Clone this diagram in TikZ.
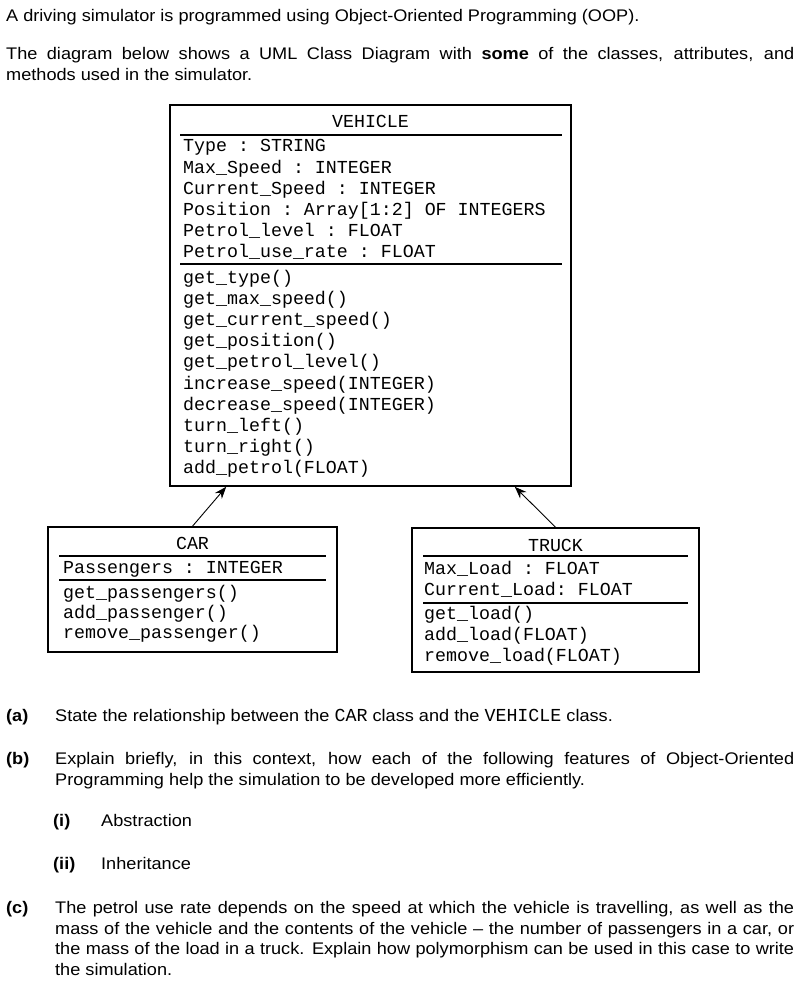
\documentclass[tikz,border=0pt]{standalone}
\usepackage{fontspec}
\setmainfont{Liberation Sans}[FakeStretch=1.08]
\setmonofont{Liberation Mono}
\usetikzlibrary{positioning, arrows.meta}
\newcommand{\umlfont}{\fontsize{18.3}{21.2}\selectfont\ttfamily}
\newcommand{\bodyfont}{\fontsize{16.8}{21}\selectfont}

\begin{document}
\begin{tikzpicture}[
        x=1pt, y=-1pt,
        every node/.style={inner sep=0pt, font=\bodyfont},
        classbox/.style={rectangle, draw=black, line width=1.6pt},
        member/.style={anchor=base west, align=left, font=\umlfont},
        classname/.style={anchor=base, font=\umlfont},
        sep/.style={line width=1.3pt},
        inherit/.style={line width=0.9pt, -{Stealth[length=12pt, width=9pt]}},
        para/.style={anchor=base west, align=left}
    ]
    \useasboundingbox (0,0) rectangle (803,1000);

    % Question text (multi-line nodes sit on their last baseline)
    \node (intro1) [para] at (6,22) {A driving simulator is programmed using Object-Oriented Programming (OOP).};
    \node (intro2) [para] at (6,81) {\makebox[788pt][s]{The diagram below shows a UML Class Diagram with \textbf{some} of the classes, attributes, and}\\methods used in the simulator.};

    % Classes
    \node (vehicle) [classbox, minimum width=401pt, minimum height=381pt] at (370.5,295.5) {};
    \node (car) [classbox, minimum width=289pt, minimum height=125pt] at (192.5,589.5) {};
    \node (truck) [classbox, minimum width=287pt, minimum height=144pt] at (555.5,600) {};

    % VEHICLE
    \node (vname) [classname] at (370.5,128) {VEHICLE};
    \draw [sep] (180,135) -- (562,135);
    \node (vattr) [member] at (183,258) {Type : STRING\\Max\_Speed : INTEGER\\Current\_Speed : INTEGER\\Position : Array[1:2] OF INTEGERS\\Petrol\_level : FLOAT\\Petrol\_use\_rate : FLOAT};
    \draw [sep] (180,264) -- (562,264);
    \node (vmeth) [member] at (183,473.8) {get\_type()\\get\_max\_speed()\\get\_current\_speed()\\get\_position()\\get\_petrol\_level()\\increase\_speed(INTEGER)\\decrease\_speed(INTEGER)\\turn\_left()\\turn\_right()\\add\_petrol(FLOAT)};

    % CAR
    \node (cname) [classname] at (192.5,549) {CAR};
    \draw [sep] (59,556) -- (326,556);
    \node (cattr) [member] at (63,573) {Passengers : INTEGER};
    \draw [sep] (59,580) -- (326,580);
    \node (cmeth) [member, font=\fontsize{18.3}{20}\selectfont\ttfamily] at (63,638) {get\_passengers()\\add\_passenger()\\remove\_passenger()};

    % TRUCK
    \node (tname) [classname] at (555.5,551) {TRUCK};
    \draw [sep] (423,556) -- (688,556);
    \node (tattr) [member, font=\fontsize{18.3}{21}\selectfont\ttfamily] at (424,595) {Max\_Load : FLOAT\\Current\_Load: FLOAT};
    \draw [sep] (423,603) -- (688,603);
    \node (tmeth) [member, font=\fontsize{18.3}{21}\selectfont\ttfamily] at (424,661) {get\_load()\\add\_load(FLOAT)\\remove\_load(FLOAT)};

    % Arrows
    \draw [inherit] (car.north) -- ([xshift=57pt]vehicle.south west);
    \draw [inherit] (truck.north) -- ([xshift=-57pt]vehicle.south east);

    % Parts
    \node (qa) [para, font=\bfseries\bodyfont] at (6,721) {(a)};
    \node (qatext) [para] at (55,721) {State the relationship between the {\fontsize{18.3}{21}\selectfont\ttfamily CAR} class and the {\fontsize{18.3}{21}\selectfont\ttfamily VEHICLE} class.};
    \node (qb) [para, font=\bfseries\bodyfont] at (6,764) {(b)};
    \node (qbtext) [para] at (55,785) {\makebox[739pt][s]{Explain briefly, in this context, how each of the following features of Object-Oriented}\\Programming help the simulation to be developed more efficiently.};
    \node (qbi) [para, font=\bfseries\bodyfont] at (53,826) {(i)};
    \node (qbitext) [para] at (101,826) {Abstraction};
    \node (qbii) [para, font=\bfseries\bodyfont] at (53,869) {(ii)};
    \node (qbiitext) [para] at (101,869) {Inheritance};
    \node (qc) [para, font=\bfseries\bodyfont] at (6,913.5) {(c)};
    \node (qctext) [para, font=\fontsize{16.8}{20.5}\selectfont] at (55,975) {\makebox[739pt][s]{The petrol use rate depends on the speed at which the vehicle is travelling, as well as the}\\\makebox[739pt][s]{mass of the vehicle and the contents of the vehicle -- the number of passengers in a car, or}\\\makebox[739pt][s]{the mass of the load in a truck. Explain how polymorphism can be used in this case to write}\\the simulation.};
\end{tikzpicture}
\end{document}
